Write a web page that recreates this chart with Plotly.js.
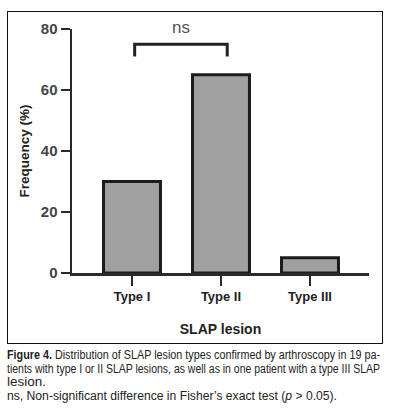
<!DOCTYPE html>
<html><head><meta charset="utf-8">
<script src="https://cdn.plot.ly/plotly-3.0.1.min.js"></script>
<style>
html,body{margin:0;padding:0;background:#fff;width:393px;height:411px;overflow:hidden;}
#frame{position:absolute;left:7px;top:11px;width:374px;height:331px;border:1.5px solid #111;}
#chart{position:absolute;left:0;top:0;width:393px;height:411px;}
#cap{position:absolute;left:7px;top:349px;width:373px;font-family:"Liberation Sans",Arial,sans-serif;font-size:12px;line-height:13.7px;color:#222;}
#cap .ln{display:block;height:13.7px;}
#cap .ln span{display:inline-block;white-space:nowrap;transform-origin:0 0;}
</style></head>
<body>
<div id="frame"></div>
<div id="chart"></div>
<div id="cap">
<div class="ln"><span data-w="373"><b>Figure 4.</b> Distribution of SLAP lesion types confirmed by arthroscopy in 19 pa-</span></div>
<div class="ln"><span data-w="373">tients with type I or II SLAP lesions, as well as in one patient with a type III SLAP</span></div>
<div class="ln"><span data-w="39">lesion.</span></div>
<div class="ln"><span data-w="330">ns, Non-significant difference in Fisher’s exact test (<i>p</i> &gt; 0.05).</span></div>
</div>
<script>
const categories = ["Type I", "Type II", "Type III"];
const frequency = [30, 65, 5];
const yTicks = [0, 20, 40, 60, 80];
const sigPair = ["Type I", "Type II"];
const sigLabel = "ns";

// fit caption lines to the widths of the reference's narrow typeface
document.querySelectorAll("#cap .ln span").forEach(sp => {
  const w = sp.getBoundingClientRect().width;
  sp.style.transform = `scaleX(${(+sp.dataset.w) / w})`;
});

const trace = {
  type: "bar",
  x: [0, 1, 2],
  y: frequency,
  width: 0.64,
  marker: {color: "#a0a0a0", line: {color: "#1c1c1c", width: 3}},
  hoverinfo: "skip"
};

const yMax = 80;
const i0 = categories.indexOf(sigPair[0]), i1 = categories.indexOf(sigPair[1]);
const bx0 = i0 + 0.03, bx1 = i1 + 0.07;
const layout = {
  width: 393, height: 411,
  margin: {l: 72, r: 24, t: 29, b: 138},
  paper_bgcolor: "rgba(0,0,0,0)", plot_bgcolor: "rgba(0,0,0,0)",
  showlegend: false,
  font: {family: "Liberation Sans, Arial, sans-serif", color: "#222"},
  xaxis: {
    range: [-0.674, 2.663],
    tickvals: [0, 1, 2], ticktext: categories,
    showline: true, linecolor: "#2a2a2a", linewidth: 2.5,
    ticks: "outside", ticklen: 10, tickwidth: 2.5, tickcolor: "#2a2a2a",
    tickfont: {size: 13, weight: "bold", color: "#222"},
    showgrid: false, zeroline: false, fixedrange: true,
    title: {text: "SLAP lesion", font: {size: 14, weight: "bold", color: "#222"}, standoff: 21}
  },
  yaxis: {
    range: [0, yMax],
    tickvals: yTicks,
    showline: true, linecolor: "#2a2a2a", linewidth: 2.5,
    ticks: "outside", ticklen: 9, tickwidth: 2.5, tickcolor: "#2a2a2a",
    tickfont: {size: 15, weight: "bold", color: "#444"},
    showgrid: false, zeroline: false, fixedrange: true,
    title: {text: "Frequency (%)", font: {size: 13.5, weight: "bold", color: "#222"}, standoff: 8}
  },
  shapes: [
    {type: "path", xref: "x", yref: "y",
     path: `M ${bx0} 71 L ${bx0} 75 L ${bx1} 75 L ${bx1} 71`,
     line: {color: "#222", width: 3}}
  ],
  annotations: [
    {x: (bx0 + bx1) / 2, y: 80.6 / yMax, xref: "x", yref: "paper", text: sigLabel, showarrow: false,
     yanchor: "middle", font: {size: 17, color: "#555", family: "Liberation Sans Narrow, Liberation Sans, Arial"}}
  ]
};
Plotly.newPlot("chart", [trace], layout, {displayModeBar: false, staticPlot: true});
</script>
</body></html>
